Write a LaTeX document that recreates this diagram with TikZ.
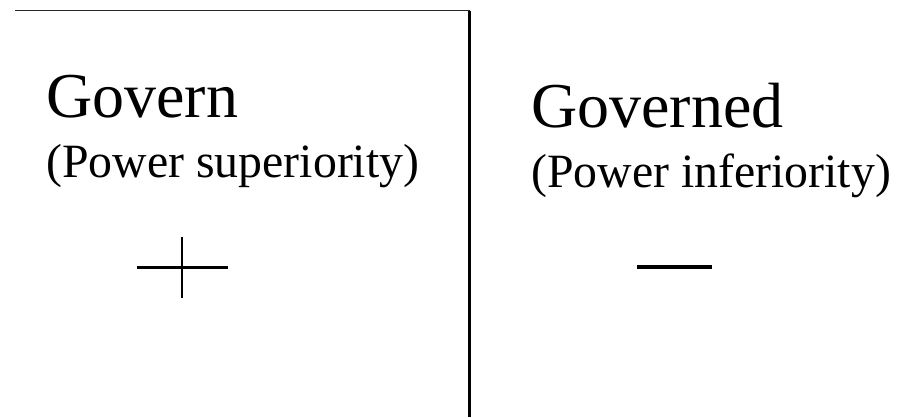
\documentclass[tikz,border=0pt]{standalone}
\usepackage{fontspec}
\setmainfont{Liberation Serif}
\usetikzlibrary{positioning}
\tikzset{
  headword/.style={font=\fontsize{36.4}{40}\selectfont,inner sep=0pt,anchor=base west},
  gloss/.style={font=\fontsize{27.2}{31}\selectfont,inner sep=0pt,anchor=base west},
  frameline/.style={line width=1.2pt},
  signline/.style={line width=1.2pt}
}
\begin{document}
\begin{tikzpicture}[x=0.02cm,y=-0.02cm]
  \useasboundingbox (0,0) rectangle (898,417);

  % ---- frame ----
  \coordinate (fa) at (15,10.5);
  \coordinate (fb) at (469.5,10.5);
  \coordinate (fc) at (469.5,417);
  \draw[line width=0.9pt,black!85] (fa) -- (fb);
  \draw[frameline] (fb) -- (fc);

  % ---- govern ----
  \begin{scope}
    \node[headword] (gv) at (46,117) {Govern};
    \node[gloss] (gvs) at (46,177) {(Power superiority)};
    \coordinate (pl) at (137,267.5);
    \coordinate (pr) at (228,267.5);
    \coordinate (pt) at (182,237);
    \coordinate (pb) at (182,298);
    \draw[signline] (pl) -- (pr);
    \draw[signline] (pt) -- (pb);
  \end{scope}

  % ---- governed ----
  \begin{scope}
    \node[headword] (gd) at (531,127) {Governed};
    \node[gloss] (gds) at (531,187) {(Power inferiority)};
    \coordinate (ml) at (637,267);
    \coordinate (mr) at (712,267);
    \draw[line width=1.8pt] (ml) -- (mr);
  \end{scope}
\end{tikzpicture}
\end{document}
